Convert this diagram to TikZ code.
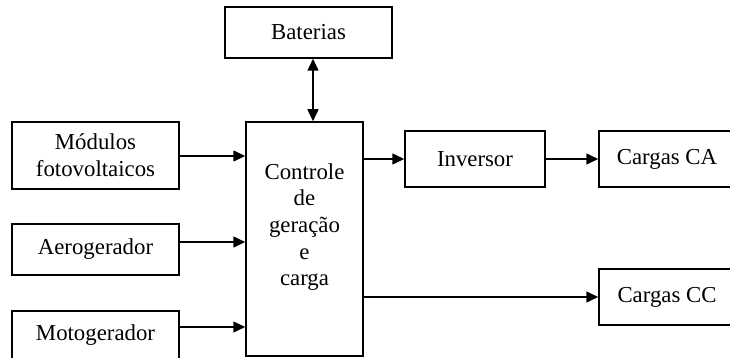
\documentclass[tikz,border=0pt]{standalone}
\usepackage{fontspec}
\setmainfont{Liberation Serif}
\usetikzlibrary{arrows.meta}
\begin{document}
\begin{tikzpicture}[x=1pt,y=-1pt,
  box/.style={draw,line width=1.5pt,inner sep=0pt,rectangle,font=\fontsize{22.8}{27}\selectfont,align=center},
  conn/.style={line width=1.5pt,-{Triangle[length=12pt,width=11pt]}},
  txt/.style={inner sep=0pt,font=\fontsize{22.8}{26.6}\selectfont,align=center}]
\useasboundingbox (0,0) rectangle (730,358);
\clip (0,0) rectangle (730,358);
\node[box,minimum width=167pt,minimum height=51pt] (bat) at (308.5,32.5) {Baterias};
\node[box,minimum width=167pt,minimum height=67pt] (mod) at (95.5,155.5) {Módulos\\fotovoltaicos};
\node[box,minimum width=117pt,minimum height=234pt] (ctl) at (304.5,239) {};
\node[txt] (ctltxt) at (304.5,227) {Controle\\de\\geração\\e\\carga};
\node[box,minimum width=140pt,minimum height=56pt] (inv) at (475,159) {Inversor};
\node[box,minimum width=136pt,minimum height=56pt] (ca) at (667,159) {Cargas CA};
\node[box,minimum width=167pt,minimum height=51pt] (aero) at (95.5,249.5) {Aerogerador};
\node[box,minimum width=167pt,minimum height=48pt] (moto) at (95.5,335) {Motogerador};
\node[box,minimum width=136pt,minimum height=56pt] (cc) at (667,297) {Cargas CC};
\coordinate (modout) at ([yshift=-0.5pt]mod.east);
\coordinate (aeroout) at ([yshift=7.5pt]aero.east);
\coordinate (motoout) at ([yshift=8pt]moto.east);
\coordinate (batout) at ([xshift=4.5pt]bat.south);
\draw[conn,{Triangle[length=12pt,width=11pt]}-{Triangle[length=12pt,width=11pt]}] (batout) -- (batout |- ctl.north);
\draw[conn] (modout) -- (ctl.west |- modout);
\draw[conn] (aeroout) -- (ctl.west |- aeroout);
\draw[conn] (motoout) -- (ctl.west |- motoout);
\draw[conn] (ctl.east |- inv.west) -- (inv.west);
\draw[conn] (inv.east) -- (ca.west);
\draw[conn] (ctl.east |- cc.west) -- (cc.west);
\end{tikzpicture}
\end{document}
